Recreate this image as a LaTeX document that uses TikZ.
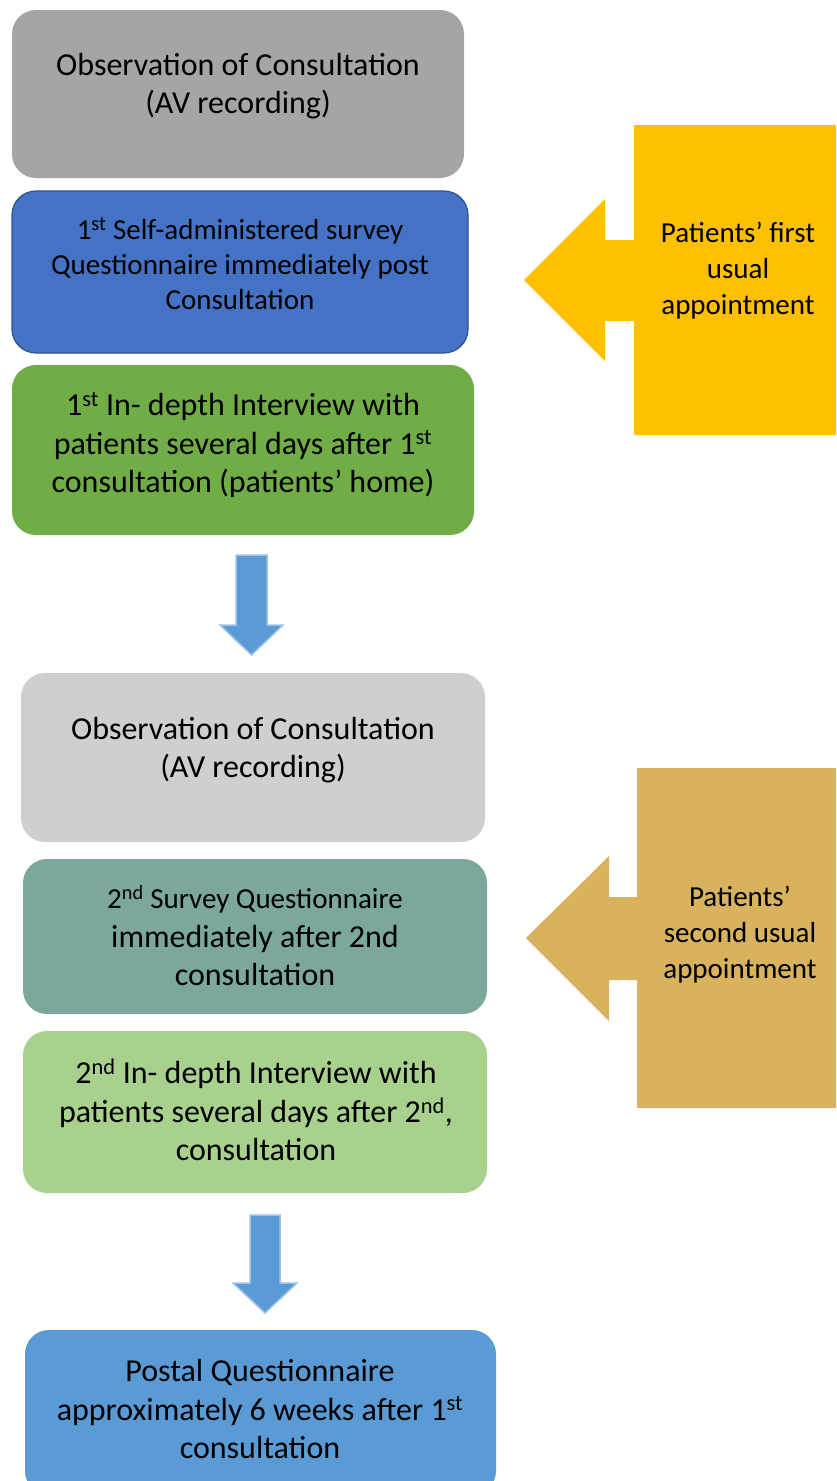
\documentclass[tikz,border=0pt]{standalone}
\usepackage{fontspec}
\usetikzlibrary{calc}
\setmainfont{Carlito}
\definecolor{greyA}{HTML}{A5A5A5}
\definecolor{blueA}{HTML}{4472C4}
\definecolor{blueEdge}{HTML}{2F528F}
\definecolor{greenA}{HTML}{70AD47}
\definecolor{greyB}{HTML}{D0CECE}
\definecolor{tealA}{HTML}{7BA79D}
\definecolor{greenB}{HTML}{A9D18E}
\definecolor{blueB}{HTML}{5B9BD5}
\definecolor{blueLight}{HTML}{9DC3E6}
\definecolor{amber}{HTML}{FFC000}
\definecolor{goldA}{HTML}{D8B25C}
\begin{document}
\begin{tikzpicture}[x=1pt,y=-1pt,
  box/.style={rounded corners=24pt, inner sep=0pt, outer sep=0pt},
  label/.style={align=center, inner sep=0pt, text=black},
  big/.style={font=\fontsize{32}{38.5}\selectfont},
  small/.style={font=\fontsize{29}{35}\selectfont},
  side/.style={font=\fontsize{29}{36}\selectfont},
  downarrow/.style={fill=blueB, draw=blueLight, line width=1.5pt}]
\useasboundingbox (0,0) rectangle (836,1481);
\clip (0,0) rectangle (836,1481);

% first appointment
\node[box, fill=greyA, minimum width=452pt, minimum height=168pt] (b1) at (238,94) {};
\node[label, big] (t1) at (238,86) {Observation of Consultation\\(AV recording)};

\node[box, fill=blueA, draw=blueEdge, line width=1.2pt, minimum width=456pt, minimum height=162pt] (b2) at (240,272) {};
\node[label, small] (t2) at (240,264) {1\textsuperscript{st} Self-administered survey\\Questionnaire immediately post\\Consultation};

\node[box, fill=greenA, minimum width=462pt, minimum height=170pt] (b3) at (243,450) {};
\node[label, big] (t3) at (243,445) {1\textsuperscript{st} In- depth Interview with\\patients several days after 1\textsuperscript{st}\\consultation (patients’ home)};

% arrow between the two appointments
\coordinate (a1) at (251.5,555);
\draw[downarrow] ($(a1)+(-15.5,0)$) -- ++(31,0) -- ++(0,70) -- ++(16,0)
  -- ($(a1)+(0,100)$) -- ($(a1)+(-31.5,70)$) -- ++(16,0) -- cycle;

% second appointment
\node[box, fill=greyB, minimum width=464pt, minimum height=169pt] (b4) at (253,757.5) {};
\node[label, big] (t4) at (253,750) {Observation of Consultation\\(AV recording)};

\node[box, fill=tealA, minimum width=464pt, minimum height=155pt] (b5) at (255,936.5) {};
\node[label, big] (t5) at (255,936) {{\fontsize{29}{35}\selectfont 2\textsuperscript{nd} Survey Questionnaire}\\immediately after 2nd\\consultation};

\node[box, fill=greenB, minimum width=464pt, minimum height=162pt] (b6) at (255,1112) {};
\node[label, big] (t6) at (256,1110) {2\textsuperscript{nd} In- depth Interview with\\patients several days after 2\textsuperscript{nd},\\consultation};

% arrow to the postal questionnaire
\coordinate (a2) at (265,1215);
\draw[downarrow] ($(a2)+(-15,0)$) -- ++(30,0) -- ++(0,68) -- ++(17,0)
  -- ($(a2)+(0,98)$) -- ($(a2)+(-32,68)$) -- ++(17,0) -- cycle;

\node[box, fill=blueB, minimum width=471pt, minimum height=165pt] (b7) at (260.5,1412.5) {};
\node[label, big] (t7) at (260,1409) {Postal Questionnaire\\approximately 6 weeks after 1\textsuperscript{st}\\consultation};

% side callouts pointing at each appointment
\fill[amber] (836,125) -- (634,125) -- (634,240) -- (605,240) -- (605,199) -- (524,280)
  -- (605,361) -- (605,321) -- (634,321) -- (634,435) -- (836,435) -- cycle;
\node[label, side] (c1) at (738,271) {Patients’ first\\usual\\appointment};

\fill[goldA] (836,768) -- (637,768) -- (637,897) -- (609,897) -- (609,856) -- (526,938)
  -- (609,1021) -- (609,980) -- (637,980) -- (637,1108) -- (836,1108) -- cycle;
\node[label, side] (c2) at (740,934.5) {Patients’\\second usual\\appointment};
\end{tikzpicture}
\end{document}
